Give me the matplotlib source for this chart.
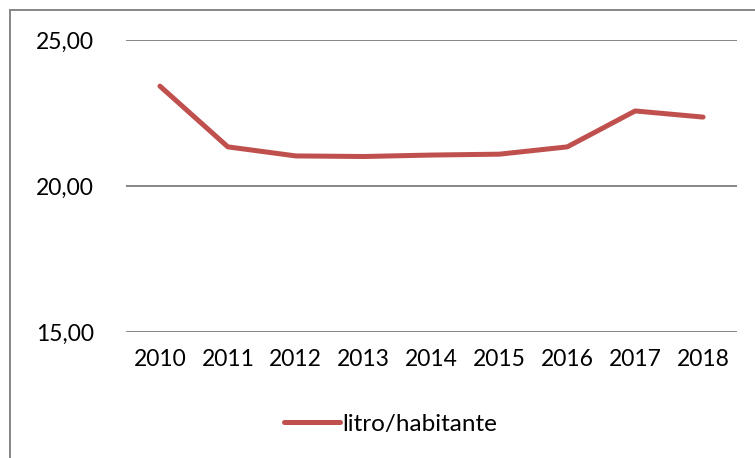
import matplotlib.pyplot as plt
from matplotlib.lines import Line2D

# Data
years = ['2010', '2011', '2012', '2013', '2014', '2015', '2016', '2017', '2018']
litro_habitante = [23.42, 21.34, 21.03, 21.01, 21.06, 21.09, 21.34, 22.57, 22.36]
y_ticks = [15, 20, 25]
y_labels = ['15,00', '20,00', '25,00']

plt.rcParams['font.family'] = ['Lato', 'DejaVu Sans']

fig = plt.figure(figsize=(7.55, 4.58), dpi=100)
W, H = 755, 458
ax = fig.add_axes([126 / W, 1 - 332 / H, (737 - 126) / W, (332 - 40) / H])

x = range(len(years))
ax.plot(x, litro_habitante, color='#C0504D', linewidth=3.6,
        solid_capstyle='round', solid_joinstyle='round', label='litro/habitante')

ax.set_xlim(-0.5, len(years) - 0.5)
ax.set_ylim(15, 25)
ax.set_yticks(y_ticks)
ax.set_yticklabels(y_labels)
ax.set_xticks(list(x))
ax.set_xticklabels(years)
ax.grid(axis='y', color='#868686', linewidth=1.4)
ax.set_axisbelow(True)
for s in ax.spines.values():
    s.set_visible(False)
ax.tick_params(axis='both', length=0, labelsize=16.5, colors='black')
ax.tick_params(axis='y', pad=23)
ax.tick_params(axis='x', pad=12)

leg = ax.legend(loc='center', bbox_to_anchor=(391 / W, 1 - 424 / H),
                bbox_transform=fig.transFigure, frameon=False, fontsize=17.5,
                handlelength=2.3, handletextpad=0.1)

# outer border (only left and top visible in the reference)
fig.add_artist(Line2D([10 / W, 10 / W], [0, 1 - 10 / H], transform=fig.transFigure,
                      color='#868686', linewidth=1.4))
fig.add_artist(Line2D([10 / W, 1], [1 - 10 / H, 1 - 10 / H], transform=fig.transFigure,
                      color='#868686', linewidth=1.4))

fig.savefig('out.png', dpi=100)
